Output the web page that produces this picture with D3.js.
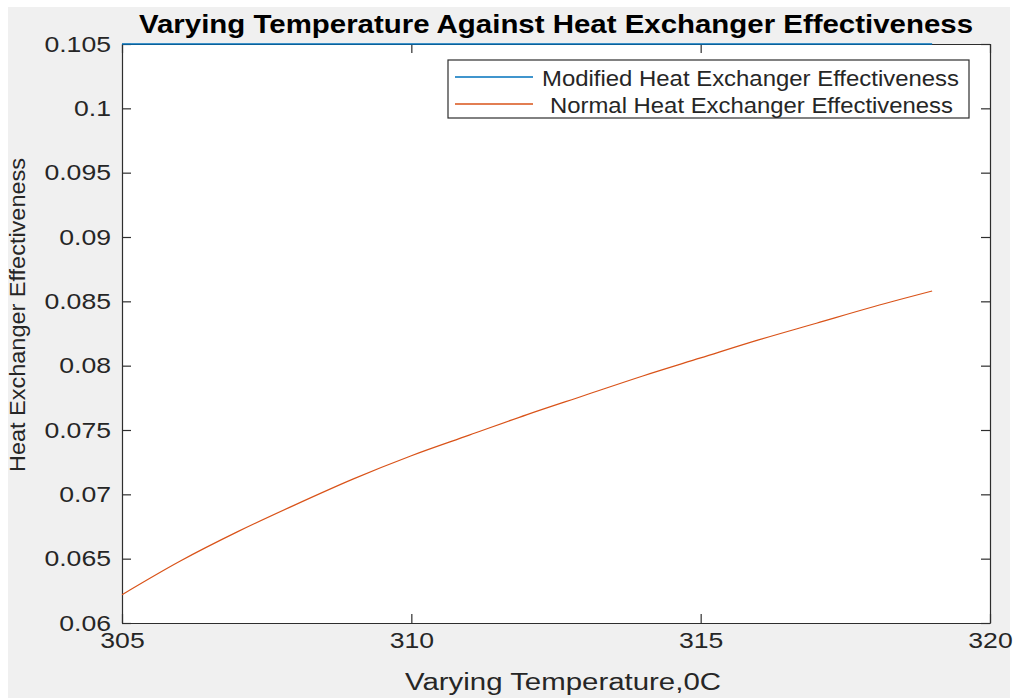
<!DOCTYPE html>
<html>
<head>
<meta charset="utf-8">
<script src="https://cdn.jsdelivr.net/npm/d3@7"></script>
<style>
  html, body { margin: 0; padding: 0; background: #ffffff; }
  svg { display: block; font-family: "Liberation Sans", Arial, Helvetica, sans-serif; }
</style>
</head>
<body>
<svg id="chart" width="1019" height="698"></svg>
<script>
// ---- data ----
const temperatures = [305, 306, 307, 308, 309, 310, 311, 312, 313, 314, 315, 316, 317, 318, 319];
const normalEffectiveness = [0.0622, 0.0648, 0.0671, 0.0692, 0.0712, 0.0730, 0.0746, 0.0762, 0.0777, 0.0792, 0.0806, 0.0820, 0.0833, 0.0846, 0.0858];
const modifiedEffectiveness = [0.105, 0.105, 0.105, 0.105, 0.105, 0.105, 0.105, 0.105, 0.105, 0.105, 0.105, 0.105, 0.105, 0.105, 0.105];
const xTicks = [305, 310, 315, 320];
const yTicks = [0.06, 0.065, 0.07, 0.075, 0.08, 0.085, 0.09, 0.095, 0.1, 0.105];
const seriesNames = ["Modified Heat Exchanger Effectiveness", "Normal Heat Exchanger Effectiveness"];
const titleText = "Varying Temperature Against Heat Exchanger Effectiveness";
const xLabelText = "Varying Temperature,0C";
const yLabelText = "Heat Exchanger Effectiveness";

// ---- layout ----
const svg = d3.select("#chart");
const L = 122, R = 990, T = 44, B = 623;
const axisColor = "#2e2e2e";
const textColor = "#262626";
const blue = "#0072BD", orange = "#D95319";
const tickScaleX = 1.21;

svg.append("rect").attr("x", 8).attr("y", 7).attr("width", 1002).attr("height", 691).attr("fill", "#f0f0f0");
svg.append("rect").attr("x", L).attr("y", T).attr("width", R - L).attr("height", B - T).attr("fill", "#ffffff");

const x = d3.scaleLinear().domain([305, 320]).range([L, R]);
const y = d3.scaleLinear().domain([0.06, 0.105]).range([B, T]);
const fmt = d => String(+d.toFixed(3));

function styleAxis(g) {
  g.select(".domain").attr("stroke", axisColor).attr("stroke-width", 1.2);
  g.selectAll(".tick line").attr("stroke", axisColor).attr("stroke-width", 1.2);
  g.selectAll(".tick text").attr("fill", textColor).style("font-size", "22px")
    .style("font-family", "'Liberation Sans', Arial, sans-serif");
}

// bottom axis
const gx = svg.append("g").attr("transform", `translate(0,${B})`)
  .call(d3.axisBottom(x).tickValues(xTicks).tickFormat(d => d).tickSizeInner(-9).tickSizeOuter(0).tickPadding(9));
styleAxis(gx);
gx.selectAll(".tick text").attr("transform", `scale(${tickScaleX},1)`);

// top axis (mirror)
const gt = svg.append("g").attr("transform", `translate(0,${T})`)
  .call(d3.axisTop(x).tickValues(xTicks).tickFormat("").tickSizeInner(-9).tickSizeOuter(0));
styleAxis(gt);

// left axis
const gy = svg.append("g").attr("transform", `translate(${L},0)`)
  .call(d3.axisLeft(y).tickValues(yTicks).tickFormat(fmt).tickSizeInner(-9).tickSizeOuter(0).tickPadding(0));
styleAxis(gy);
gy.selectAll(".tick text").attr("x", 0).attr("transform", `translate(-11,0) scale(${tickScaleX},1)`);

// right axis (mirror)
const gr = svg.append("g").attr("transform", `translate(${R},0)`)
  .call(d3.axisRight(y).tickValues(yTicks).tickFormat("").tickSizeInner(-9).tickSizeOuter(0));
styleAxis(gr);

// lines
const line = d3.line().curve(d3.curveMonotoneX).x(d => x(d[0])).y(d => y(d[1]));
const modData = temperatures.map((t, i) => [t, modifiedEffectiveness[i]]);
const normData = temperatures.map((t, i) => [t, normalEffectiveness[i]]);
svg.append("path").datum(normData).attr("d", line).attr("fill", "none")
  .attr("stroke", orange).attr("stroke-width", 1.2);
svg.append("path").datum(modData).attr("d", line).attr("fill", "none")
  .attr("stroke", blue).attr("stroke-width", 1.3);

// title
svg.append("text").attr("x", 556).attr("y", 33).attr("text-anchor", "middle")
  .attr("fill", "#000").style("font-size", "25px").style("font-weight", "bold")
  .attr("textLength", 834).attr("lengthAdjust", "spacingAndGlyphs")
  .text(titleText);

// x label
svg.append("text").attr("x", 563).attr("y", 690).attr("text-anchor", "middle")
  .attr("fill", textColor).style("font-size", "23px")
  .attr("textLength", 316).attr("lengthAdjust", "spacingAndGlyphs")
  .text(xLabelText);

// y label
svg.append("text").attr("transform", "translate(25,315) rotate(-90)").attr("text-anchor", "middle")
  .attr("fill", textColor).style("font-size", "22px")
  .attr("textLength", 314).attr("lengthAdjust", "spacingAndGlyphs")
  .text(yLabelText);

// legend
const lg = svg.append("g");
lg.append("rect").attr("x", 448).attr("y", 60).attr("width", 521).attr("height", 58)
  .attr("fill", "#ffffff").attr("stroke", axisColor).attr("stroke-width", 1.2);
const legendItems = [
  { name: seriesNames[0], color: blue, ly: 77, tx: 542, tb: 86, tl: 417 },
  { name: seriesNames[1], color: orange, ly: 104, tx: 550, tb: 113, tl: 403 }
];
legendItems.forEach(it => {
  lg.append("line").attr("x1", 455).attr("x2", 533).attr("y1", it.ly).attr("y2", it.ly)
    .attr("stroke", it.color).attr("stroke-width", 1.3);
  lg.append("text").attr("x", it.tx).attr("y", it.tb).attr("fill", textColor)
    .style("font-size", "22px").attr("textLength", it.tl).attr("lengthAdjust", "spacingAndGlyphs")
    .text(it.name);
});
</script>
</body>
</html>
